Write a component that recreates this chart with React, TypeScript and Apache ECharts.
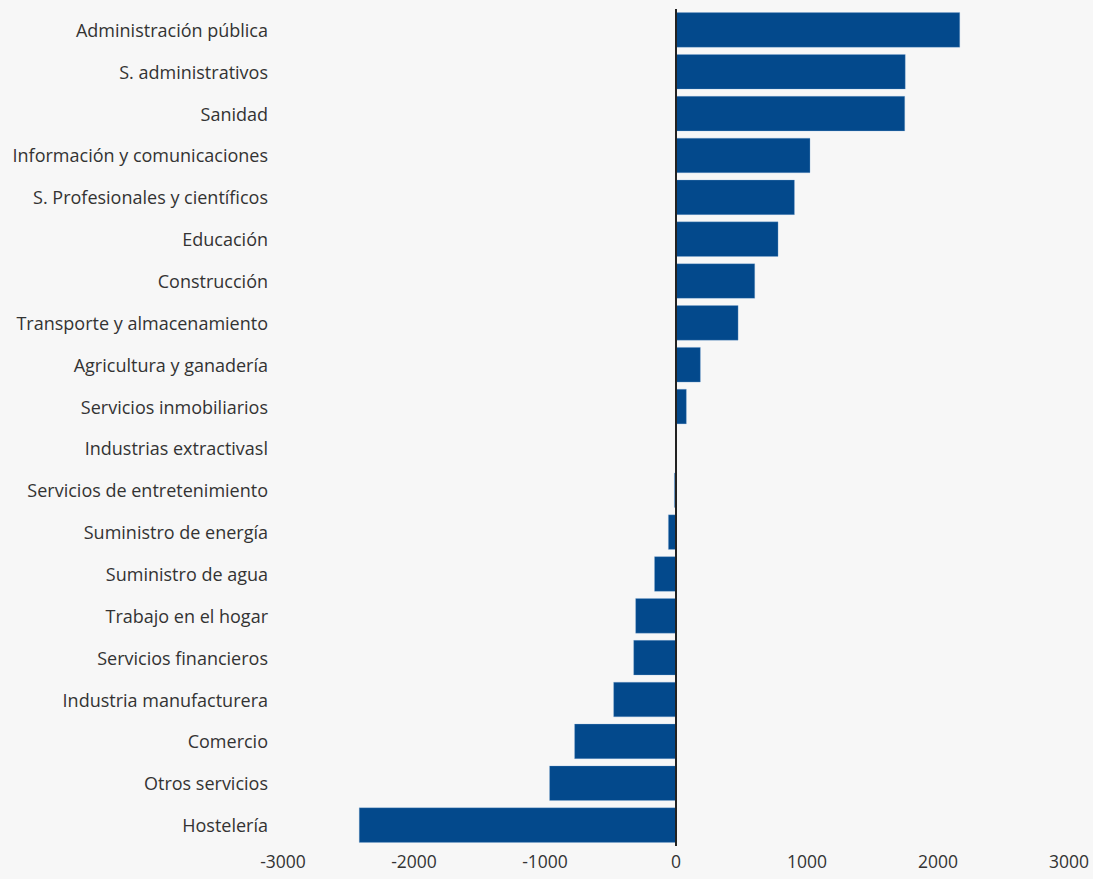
import React, { useEffect, useRef } from "react";
import * as echarts from "echarts";

const categories = [
  "Administración pública",
  "S. administrativos",
  "Sanidad",
  "Información y comunicaciones",
  "S. Profesionales y científicos",
  "Educación",
  "Construcción",
  "Transporte y almacenamiento",
  "Agricultura y ganadería",
  "Servicios inmobiliarios",
  "Industrias extractivasl",
  "Servicios de entretenimiento",
  "Suministro de energía",
  "Suministro de agua",
  "Trabajo en el hogar",
  "Servicios financieros",
  "Industria manufacturera",
  "Comercio",
  "Otros servicios",
  "Hostelería",
];

const values = [
  2168, 1752, 1748, 1025, 906, 781, 603, 476, 188, 81, 0, -14, -60, -166, -310,
  -325, -478, -776, -967, -2420,
];

const xMin = -3000;
const xMax = 3000;
const xInterval = 1000;

export default function App() {
  const ref = useRef<HTMLDivElement>(null);
  useEffect(() => {
    if (!ref.current) return;
    const chart = echarts.init(ref.current, undefined, { renderer: "svg" });
    chart.setOption({
      animation: false,
      backgroundColor: "#f7f7f7",
      textStyle: { fontFamily: "Open Sans" },
      grid: { left: 283, right: 24, top: 9, bottom: 33, containLabel: false },
      xAxis: {
        type: "value",
        min: xMin,
        max: xMax,
        interval: xInterval,
        axisLine: { show: false },
        axisTick: { show: false },
        splitLine: { show: false },
        axisLabel: {
          color: "#333",
          fontSize: 17.5,
          margin: 6,
          fontFamily: "Open Sans",
          formatter: (v: number) => String(v),
        },
      },
      yAxis: {
        type: "category",
        data: categories,
        inverse: true,
        axisLine: { show: false, onZero: false },
        axisTick: { show: false },
        axisLabel: { color: "#333", fontSize: 18, margin: 15, fontFamily: "Open Sans" },
      },
      series: [
        {
          type: "bar",
          data: values,
          barCategoryGap: "16%",
          itemStyle: { color: "#03498c", borderColor: "rgba(140,180,220,0.6)", borderWidth: 0.5 },
          markLine: {
            silent: true,
            symbol: "none",
            label: { show: false },
            lineStyle: { color: "#222", width: 2, type: "solid" },
            data: [{ xAxis: 0 }],
          },
        },
      ],
    });
    return () => chart.dispose();
  }, []);
  return (
    <div
      ref={ref}
      style={{ position: "fixed", left: 0, top: 0, width: 1093, height: 879 }}
    />
  );
}
